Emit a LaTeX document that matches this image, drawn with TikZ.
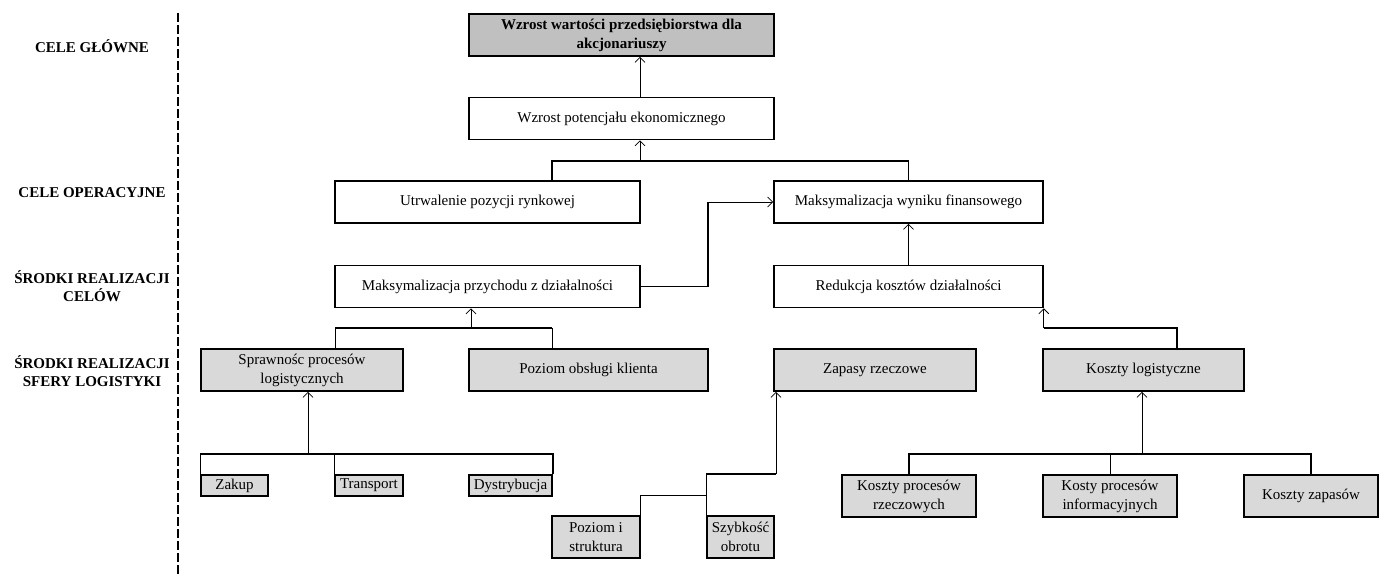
\documentclass[tikz,border=0pt]{standalone}
\usepackage{fontspec}
\setmainfont{Liberation Serif}
\usetikzlibrary{arrows.meta}
\definecolor{boxgray}{RGB}{217,217,217}
\definecolor{headgray}{RGB}{192,192,192}
\begin{document}
\begin{tikzpicture}[x=1pt,y=-1pt,
  font=\fontsize{15}{19}\selectfont,
  box/.style={draw=black,line width=1.6pt,minimum height=42pt,inner sep=1pt,align=center},
  graybox/.style={box,fill=boxgray},
  smallbox/.style={graybox,minimum height=21pt},
  level/.style={font=\fontsize{15}{18}\selectfont\bfseries,align=center},
  arr/.style={line width=0.8pt,-{Straight Barb[length=5pt,width=10pt]}},
  bus/.style={line width=1.4pt},
  link/.style={line width=1pt}]
\useasboundingbox (0,0) rectangle (1385,577);

% level labels and the dashed divider
\node[level] (l1) at (92,46) {CELE GŁÓWNE};
\node[level] (l2) at (92,193) {CELE OPERACYJNE};
\node[level] (l3) at (92,286) {ŚRODKI REALIZACJI\\CELÓW};
\node[level] (l4) at (92,371) {ŚRODKI REALIZACJI\\SFERY LOGISTYKI};
\coordinate (dtop) at (178,13);
\coordinate (dbot) at (178,577);
\draw[line width=1.5pt,dash pattern=on 9pt off 3pt] (dtop) -- (dbot);

% boxes
\node[box,fill=headgray,minimum width=305pt,font=\fontsize{15}{19}\selectfont\bfseries] (top) at (621.5,35)
  {Wzrost wartości przedsiębiorstwa dla\\akcjonariuszy};
\node[box,minimum width=305pt] (wzrost) at (621.5,118.5) {Wzrost potencjału ekonomicznego};
\node[box,minimum width=305pt] (utrw) at (487.5,202) {Utrwalenie pozycji rynkowej};
\node[box,minimum width=269pt] (maxwyn) at (908.5,202) {Maksymalizacja wyniku finansowego};
\node[box,minimum width=305pt] (maxprz) at (487.5,286.5) {Maksymalizacja przychodu z działalności};
\node[box,minimum width=269pt] (red) at (908.5,286.5) {Redukcja kosztów działalności};

\node[graybox,minimum width=202pt] (spraw) at (302,370) {Sprawnośc procesów\\logistycznych};
\node[graybox,minimum width=239pt] (obsl) at (588.5,370) {Poziom obsługi klienta};
\node[graybox,minimum width=202pt] (zap) at (875,370) {Zapasy rzeczowe};
\node[graybox,minimum width=201pt] (klog) at (1143.5,370) {Koszty logistyczne};

\node[smallbox,minimum width=67pt] (zakup) at (234.5,485.5) {Zakup};
\node[smallbox,minimum width=68pt] (transp) at (369,485.5) {Transport};
\node[smallbox,minimum width=83pt] (dystr) at (510.5,485.5) {Dystrybucja};

\node[graybox,minimum width=88pt] (pstr) at (596,537) {Poziom i\\struktura};
\node[graybox,minimum width=67pt] (szyb) at (740.5,537) {Szybkość\\obrotu};

\node[graybox,minimum width=134pt] (kpr) at (909,496) {Koszty procesów\\rzeczowych};
\node[graybox,minimum width=134pt] (kpi) at (1110,496) {Kosty procesów\\informacyjnych};
\node[graybox,minimum width=134pt] (kz) at (1311,496) {Koszty zapasów};

% connector x positions and bus levels
\coordinate (xa) at (640,0);
\coordinate (xb) at (552,0);
\coordinate (xc) at (471,0);
\coordinate (xd) at (335,0);
\coordinate (xe) at (308,0);
\coordinate (xf) at (776,0);
\coordinate (xg) at (707,0);
\coordinate (xh) at (1142,0);
\coordinate (xi) at (1177,0);
\coordinate (xj) at (708,0);
\coordinate (ya) at (0,161);
\coordinate (yb) at (0,328);
\coordinate (yc) at (0,454);
\coordinate (yd) at (0,474);
\coordinate (ye) at (0,495);

% top levels
\draw[arr] (wzrost.north -| xa) -- (top.south -| xa);
\draw[bus] (utrw.north -| xb) -- (ya -| xb) -- (ya -| maxwyn.north) -- (maxwyn.north);
\draw[arr] (ya -| xa) -- (wzrost.south -| xa);
\draw[bus] (maxprz.east) -- (maxprz.east -| xj) -- (maxwyn.west -| xj);
\draw[arr] (maxwyn.west -| xj) -- (maxwyn.west);
\draw[arr] (red.north) -- (maxwyn.south);

% revenue branch
\draw[link] (spraw.north -| xd) -- (yb -| xd);
\draw[bus] (yb -| xd) -- (yb -| xb);
\draw[link] (yb -| xb) -- (obsl.north -| xb);
\draw[arr] (yb -| xc) -- (maxprz.south -| xc);

% cost branch
\draw[arr] (yb -| red.east) -- (red.south east);
\draw[bus] (yb -| red.east) -- (yb -| xi) -- (klog.north -| xi);

% logistics processes
\draw[bus] (zakup.north west) -- (yc -| zakup.west) -- (yc -| dystr.east) -- (dystr.north east);
\draw[link] (yc -| transp.west) -- (transp.north west);
\draw[arr] (yc -| xe) -- (spraw.south -| xe);

% inventories
\draw[arr] (yd -| xf) -- (zap.south -| xf);
\draw[bus] (yd -| xf) -- (yd -| szyb.west) -- (szyb.north west);
\draw[link] (ye -| szyb.west) -- (ye -| pstr.east) -- (pstr.north east);

% logistics costs
\draw[bus] (kpr.north) -- (yc -| kpr.north) -- (yc -| kz.north) -- (kz.north);
\draw[link] (yc -| kpi.north) -- (kpi.north);
\draw[arr] (yc -| xh) -- (klog.south -| xh);
\end{tikzpicture}
\end{document}
